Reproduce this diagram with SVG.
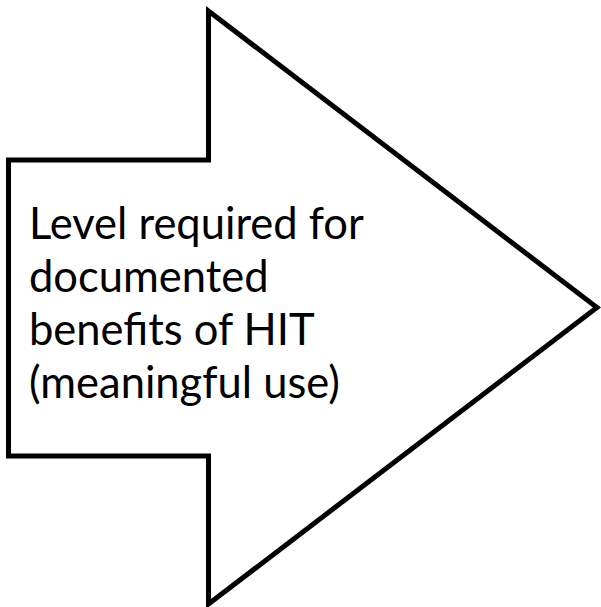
<svg xmlns="http://www.w3.org/2000/svg" width="601" height="607" viewBox="0 0 601 607">
<style>
.shape{fill:#ffffff;stroke:#000000;stroke-width:5;stroke-linejoin:miter;stroke-miterlimit:10}
.lbl{font-family:Lato,"Liberation Sans",sans-serif;font-size:43.5px;fill:#000000}
</style>
<rect width="601" height="607" fill="#ffffff"/>
<g id="arrow">
<path class="shape" d="M8.5,160 L208.5,160 L208.5,11 L597,307.5 L208.5,604 L208.5,456 L8.5,456 Z"/>
<text class="lbl" x="29" y="239">Level required for</text>
<text class="lbl" x="29" y="292">documented</text>
<text class="lbl" x="29" y="345">benefits of HIT</text>
<text class="lbl" x="29" y="398">(meaningful use)</text>
</g>
</svg>
